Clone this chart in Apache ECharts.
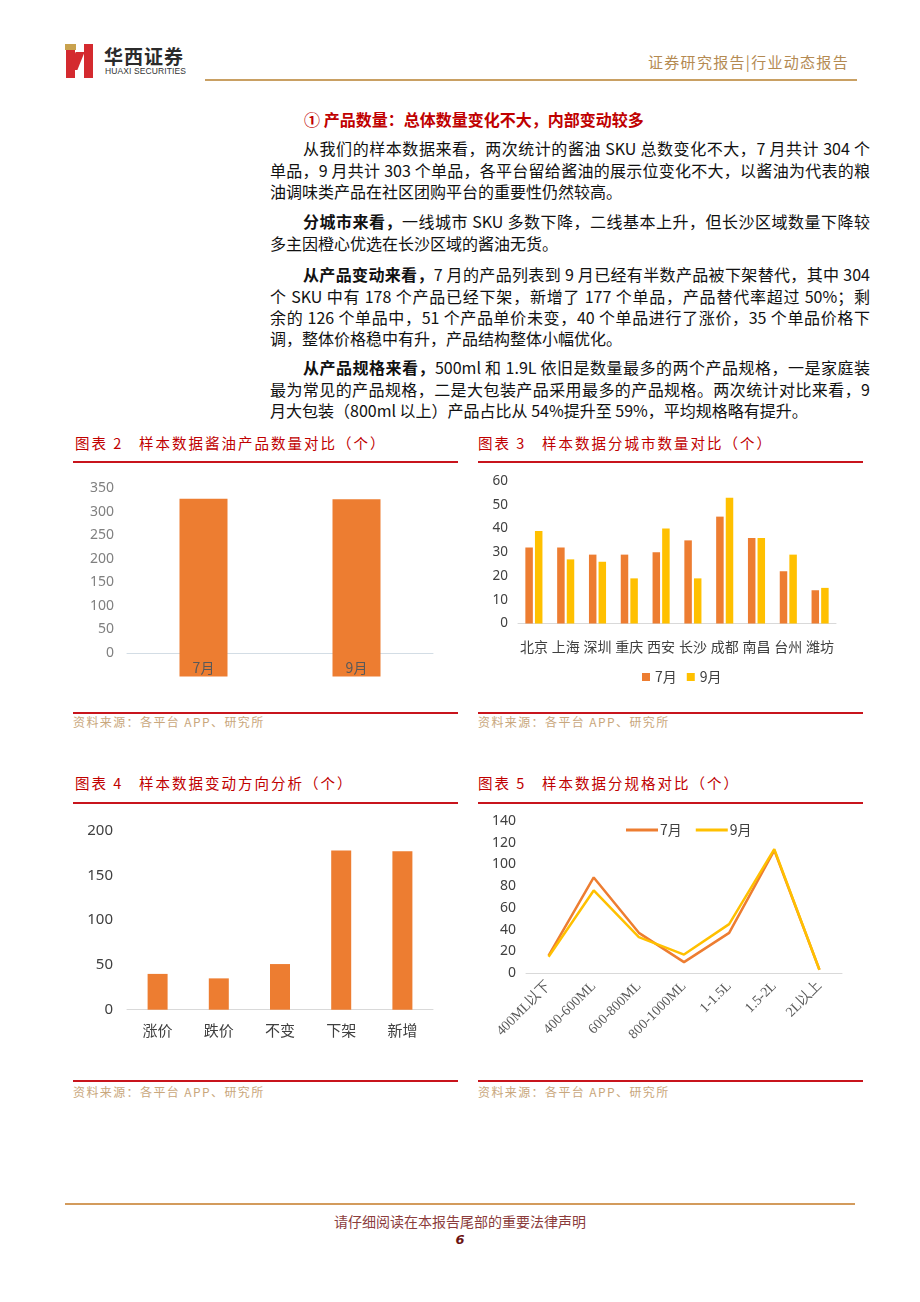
<!DOCTYPE html>
<html lang="zh">
<head>
<meta charset="UTF-8">
<title>行业动态报告 第6页</title>
<script src="https://cdn.jsdelivr.net/npm/echarts@6.0.0/dist/echarts.min.js"></script>
<style>
  * { margin: 0; padding: 0; box-sizing: border-box; }
  body {
    width: 920px; height: 1302px; position: relative; overflow: hidden; background: #fff;
    font-family: "Noto Sans CJK SC", sans-serif; color: #111;
  }
  .abs { position: absolute; }
  /* header */
  .logo-cap { left: 65px; top: 44px; width: 11px; height: 6px; background: #c9a24e; }
  .logo-l { left: 66px; top: 50px; width: 9px; height: 28px; background: #d42a2f; }
  .logo-r { left: 84px; top: 44px; width: 9px; height: 34px; background: #d42a2f; }
  .logo-d { left: 72px; top: 52px; width: 9px; height: 18px; background: #d42a2f; transform: skewX(-22deg); }
  .brand { left: 104px; top: 42px; font-size: 19px; font-weight: bold; letter-spacing: 1px; color: #2b2b2b; font-family: "Noto Sans CJK SC"; }
  .brand-en { left: 105px; top: 66px; font-size: 8.5px; color: #333; font-family: "Liberation Sans", sans-serif; letter-spacing: 0.1px; }
  .head-r { left: 648px; top: 51px; font-size: 15px; color: #b48a52; letter-spacing: 1.3px; }
  .head-line { left: 205px; top: 79px; width: 652px; height: 2px; background: #c9a063; }
  /* text */
  .body-text { left: 270px; width: 600px; font-size: 16px; line-height: 21.3px;
    font-family: "Liberation Sans Narrow", "Noto Sans CJK SC", sans-serif; }
  .ln { text-align: justify; text-align-last: justify; }
  .ln.end { text-align-last: left; }
  .ln.ind { margin-left: 33px; }
  .h1 { left: 304px; top: 107px; font-size: 16px; font-weight: bold; color: #c00000; }
  /* figure frames */
  .ftitle { font-size: 14.5px; color: #c00000; letter-spacing: 2px; }
  .rline { height: 2px; width: 385px; background: #c8141c; }
  .src { font-size: 12px; color: #c9a77c; letter-spacing: 1.4px; }
  .chart { position: absolute; width: 405px; }
  /* footer */
  .foot-line { left: 65px; top: 1203px; width: 790px; height: 2px; background: #d39b5c; }
  .foot { left: 0; width: 920px; top: 1211px; text-align: center; font-size: 14px; color: #8b3c3c; }
  .page { left: 0; width: 920px; top: 1232px; text-align: center; font-size: 13px; font-weight: bold; font-style: italic; color: #6b1414; font-family: "DejaVu Sans", sans-serif; }
</style>
</head>
<body>
  <div class="abs logo-cap"></div>
  <div class="abs logo-l"></div>
  <div class="abs logo-d"></div>
  <div class="abs logo-r"></div>
  <div class="abs brand">华西证券</div>
  <div class="abs brand-en">HUAXI SECURITIES</div>
  <div class="abs head-r">证券研究报告|行业动态报告</div>
  <div class="abs head-line"></div>

  <div class="abs h1">① 产品数量：总体数量变化不大，内部变动较多</div>

  <div class="abs body-text" style="top:138.3px">
    <div class="ln ind">从我们的样本数据来看，两次统计的酱油 SKU 总数变化不大，7 月共计 304 个</div>
    <div class="ln">单品，9 月共计 303 个单品，各平台留给酱油的展示位变化不大，以酱油为代表的粮</div>
    <div class="ln end">油调味类产品在社区团购平台的重要性仍然较高。</div>
  </div>
  <div class="abs body-text" style="top:211.3px">
    <div class="ln ind"><b>分城市来看，</b>一线城市 SKU 多数下降，二线基本上升，但长沙区域数量下降较</div>
    <div class="ln end">多主因橙心优选在长沙区域的酱油无货。</div>
  </div>
  <div class="abs body-text" style="top:264.3px">
    <div class="ln ind"><b>从产品变动来看，</b>7 月的产品列表到 9 月已经有半数产品被下架替代，其中 304</div>
    <div class="ln">个 SKU 中有 178 个产品已经下架，新增了 177 个单品，产品替代率超过 50%；剩</div>
    <div class="ln">余的 126 个单品中，51 个产品单价未变，40 个单品进行了涨价，35 个单品价格下</div>
    <div class="ln end">调，整体价格稳中有升，产品结构整体小幅优化。</div>
  </div>
  <div class="abs body-text" style="top:357.3px">
    <div class="ln ind"><b>从产品规格来看，</b>500ml 和 1.9L 依旧是数量最多的两个产品规格，一是家庭装</div>
    <div class="ln">最为常见的产品规格，二是大包装产品采用最多的产品规格。两次统计对比来看，9</div>
    <div class="ln end">月大包装（800ml 以上）产品占比从 54%提升至 59%，平均规格略有提升。</div>
  </div>

  <!-- 图表2 / 图表3 -->
  <div class="abs ftitle" style="left:75px; top:432px">图表 2&nbsp;&nbsp; 样本数据酱油产品数量对比（个）</div>
  <div class="abs rline" style="left:73px; top:461px"></div>
  <div class="abs rline" style="left:73px; top:712px"></div>
  <div class="abs src" style="left:73px; top:713px">资料来源：各平台 APP、研究所</div>

  <div class="abs ftitle" style="left:478px; top:432px">图表 3&nbsp;&nbsp; 样本数据分城市数量对比（个）</div>
  <div class="abs rline" style="left:478px; top:461px"></div>
  <div class="abs rline" style="left:478px; top:712px"></div>
  <div class="abs src" style="left:478px; top:713px">资料来源：各平台 APP、研究所</div>

  <!-- 图表4 / 图表5 -->
  <div class="abs ftitle" style="left:75px; top:772px">图表 4&nbsp;&nbsp; 样本数据变动方向分析（个）</div>
  <div class="abs rline" style="left:73px; top:802px"></div>
  <div class="abs rline" style="left:73px; top:1080px"></div>
  <div class="abs src" style="left:73px; top:1083px">资料来源：各平台 APP、研究所</div>

  <div class="abs ftitle" style="left:478px; top:772px">图表 5&nbsp;&nbsp; 样本数据分规格对比（个）</div>
  <div class="abs rline" style="left:478px; top:802px"></div>
  <div class="abs rline" style="left:478px; top:1080px"></div>
  <div class="abs src" style="left:478px; top:1083px">资料来源：各平台 APP、研究所</div>

  <div id="chart2" class="chart" style="left:60px; top:465px; height:245px"></div>
  <div id="chart3" class="chart" style="left:465px; top:465px; height:245px"></div>
  <div id="chart4" class="chart" style="left:60px; top:806px; height:272px"></div>
  <div id="chart5" class="chart" style="left:465px; top:806px; height:272px"></div>

  <div class="abs foot-line"></div>
  <div class="abs foot">请仔细阅读在本报告尾部的重要法律声明</div>
  <div class="abs page">6</div>

<script type="text/javascript">
// 图表2 数据
var months2 = ['7月', '9月'];
var count2 = [327, 326];
var ticks2 = [0, 50, 100, 150, 200, 250, 300, 350];

// 图表3 数据
var cities = ['北京', '上海', '深圳', '重庆', '西安', '长沙', '成都', '南昌', '台州', '潍坊'];
var city7 = [32, 32, 29, 29, 30, 35, 45, 36, 22, 14];
var city9 = [39, 27, 26, 19, 40, 19, 53, 36, 29, 15];

// 图表4 数据
var changeTypes = ['涨价', '跌价', '不变', '下架', '新增'];
var changeCount = [40, 35, 51, 178, 177];

// 图表5 数据
var specs = ['400ML以下', '400-600ML', '600-800ML', '800-1000ML', '1-1.5L', '1.5-2L', '2L以上'];
var spec7 = [16, 88, 37, 10, 37, 113, 3];
var spec9 = [15, 76, 33, 17, 45, 114, 3];

var ORANGE = '#ED7D31';
var GOLD = '#FFC000';
var AXIS_GRAY = '#d9d9d9';
var LABEL_DARK = '#404040';

var chart2 = echarts.init(document.getElementById('chart2'));
var chart3 = echarts.init(document.getElementById('chart3'));
var chart4 = echarts.init(document.getElementById('chart4'));
var chart5 = echarts.init(document.getElementById('chart5'));

// 图表2：柱子向下延伸到坐标轴底部，月份写在柱内
var axisMin2 = -50;
chart2.setOption({
    animation: false,
    grid: { left: 67, top: 23, width: 306, height: 188.6, containLabel: false, outerBoundsMode: 'none' },
    xAxis: {
        type: 'category',
        data: months2,
        axisLine: { lineStyle: { color: '#d3dde5', width: 1 } },
        axisTick: { show: false },
        axisLabel: { show: false }
    },
    yAxis: {
        type: 'value',
        min: axisMin2,
        max: ticks2[ticks2.length - 1],
        interval: 50,
        axisLine: { show: false },
        axisTick: { show: false },
        splitLine: { show: false },
        axisLabel: {
            margin: 13,
            fontSize: 14,
            color: '#808080',
            fontFamily: 'Noto Sans',
            formatter: function (v) { return ticks2.indexOf(v) >= 0 ? String(v) : ''; }
        }
    },
    series: [
        {
            name: '数量',
            type: 'bar',
            stack: 'total',
            barWidth: 48,
            itemStyle: { color: ORANGE },
            data: count2
        },
        {
            name: '底部',
            type: 'bar',
            stack: 'total',
            barWidth: 48,
            itemStyle: { color: ORANGE },
            label: {
                show: true,
                position: 'inside',
                offset: [0, 3],
                formatter: '{b}',
                fontSize: 14,
                color: '#595959',
                fontFamily: 'Noto Sans CJK SC'
            },
            data: count2.map(function () { return axisMin2; })
        }
    ]
});

// 图表3：分城市
chart3.setOption({
    animation: false,
    grid: { left: 53, top: 16, width: 318, height: 142.5, containLabel: false, outerBoundsMode: 'none' },
    legend: {
        data: ['7月', '9月'],
        left: 172,
        top: 200,
        icon: 'rect',
        itemWidth: 8,
        itemHeight: 8,
        itemGap: 10,
        textStyle: { fontSize: 14, color: LABEL_DARK, fontFamily: 'Noto Sans CJK SC' }
    },
    xAxis: {
        type: 'category',
        data: cities,
        axisLine: { lineStyle: { color: AXIS_GRAY } },
        axisTick: { show: false },
        axisLabel: { interval: 0, margin: 16, fontSize: 14, color: LABEL_DARK, fontFamily: 'Noto Sans CJK SC' }
    },
    yAxis: {
        type: 'value',
        min: 0,
        max: 60,
        interval: 10,
        axisLine: { show: false },
        axisTick: { show: false },
        splitLine: { show: false },
        axisLabel: { margin: 10, fontSize: 13.5, color: LABEL_DARK, fontFamily: 'Noto Sans' }
    },
    series: [
        { name: '7月', type: 'bar', barWidth: 7.5, barGap: '28%', itemStyle: { color: ORANGE }, data: city7 },
        { name: '9月', type: 'bar', barWidth: 7.5, barGap: '28%', itemStyle: { color: GOLD }, data: city9 }
    ]
});

// 图表4：变动方向
chart4.setOption({
    animation: false,
    grid: { left: 67, top: 24.7, width: 306, height: 179, containLabel: false, outerBoundsMode: 'none' },
    xAxis: {
        type: 'category',
        data: changeTypes,
        axisLine: { lineStyle: { color: AXIS_GRAY } },
        axisTick: { show: false },
        axisLabel: { interval: 0, margin: 13, fontSize: 15, color: LABEL_DARK, fontFamily: 'Noto Sans CJK SC' }
    },
    yAxis: {
        type: 'value',
        min: 0,
        max: 200,
        interval: 50,
        axisLine: { show: false },
        axisTick: { show: false },
        splitLine: { show: false },
        axisLabel: { margin: 14, fontSize: 15, color: LABEL_DARK, fontFamily: 'Noto Sans' }
    },
    series: [
        { name: '数量', type: 'bar', barWidth: 20, itemStyle: { color: ORANGE }, data: changeCount }
    ]
});

// 图表5：分规格
chart5.setOption({
    animation: false,
    grid: { left: 61, top: 15, width: 316, height: 152, containLabel: false, outerBoundsMode: 'none' },
    legend: {
        data: ['7月', '9月'],
        left: 156,
        top: 12,
        icon: 'path://M0,0 L32,0 L32,3 L0,3 Z',
        itemWidth: 32,
        itemHeight: 3,
        itemGap: 14,
        textStyle: { fontSize: 14, color: LABEL_DARK, fontFamily: 'Noto Sans CJK SC', padding: [0, 0, 0, -3] }
    },
    xAxis: {
        type: 'category',
        data: specs,
        axisLine: { lineStyle: { color: AXIS_GRAY } },
        axisTick: { show: false },
        axisLabel: { interval: 0, rotate: 45, margin: 11, fontSize: 14, color: '#595959', fontFamily: 'Liberation Serif' }
    },
    yAxis: {
        type: 'value',
        min: 0,
        max: 140,
        interval: 20,
        axisLine: { show: false },
        axisTick: { show: false },
        splitLine: { show: false },
        axisLabel: { margin: 10, fontSize: 14, color: LABEL_DARK, fontFamily: 'Noto Sans' }
    },
    series: [
        { name: '7月', type: 'line', showSymbol: false, lineStyle: { width: 2.5, color: ORANGE }, itemStyle: { color: ORANGE }, data: spec7 },
        { name: '9月', type: 'line', showSymbol: false, lineStyle: { width: 2.5, color: GOLD }, itemStyle: { color: GOLD }, data: spec9 }
    ]
});
</script>
</body>
</html>
